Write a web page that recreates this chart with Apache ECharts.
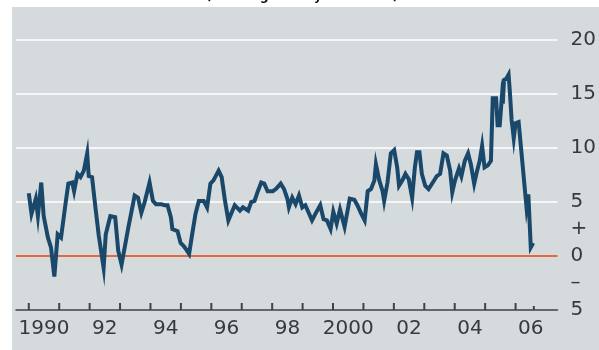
<!DOCTYPE html>
<html>
<head>
<meta charset="utf-8">
<script src="https://cdn.jsdelivr.net/npm/echarts@6/dist/echarts.min.js"></script>
<style>
  html, body { margin: 0; padding: 0; background: #fff; }
  #chart { width: 599px; height: 350px; }
</style>
</head>
<body>
<div id="chart"></div>
<script>
// Monthly-ish observations, in decimal years, with the % change at each
const times = [
  1990.00, 1990.09, 1990.23, 1990.30, 1990.41, 1990.49, 1990.63, 1990.73, 1990.84, 1990.95,
  1991.06, 1991.22, 1991.30, 1991.43, 1991.49, 1991.60, 1991.70, 1991.81, 1991.92, 1991.97,
  1992.08, 1992.19, 1992.30, 1992.46, 1992.53, 1992.68, 1992.84, 1992.94,
  1993.05, 1993.27, 1993.48, 1993.59, 1993.70, 1993.81, 1993.97,
  1994.08, 1994.18, 1994.35, 1994.46, 1994.56, 1994.67, 1994.72, 1994.89, 1994.99,
  1995.10, 1995.20, 1995.27, 1995.37, 1995.48, 1995.59, 1995.75, 1995.86, 1995.97,
  1996.07, 1996.24, 1996.34, 1996.45, 1996.56, 1996.61, 1996.77, 1996.94,
  1997.04, 1997.21, 1997.31, 1997.42, 1997.53, 1997.64, 1997.74, 1997.85,
  1998.02, 1998.12, 1998.28, 1998.39, 1998.50, 1998.55, 1998.66, 1998.77, 1998.88, 1998.99,
  1999.09, 1999.20, 1999.31, 1999.42, 1999.58, 1999.69, 1999.80, 1999.92,
  2000.01, 2000.12, 2000.23, 2000.38, 2000.55, 2000.70, 2000.80, 2000.93,
  2001.04, 2001.14, 2001.25, 2001.36, 2001.41, 2001.52, 2001.63, 2001.68, 2001.79, 2001.90,
  2002.01, 2002.11, 2002.17, 2002.28, 2002.38, 2002.49, 2002.60, 2002.69, 2002.76, 2002.84, 2002.92,
  2003.03, 2003.14, 2003.30, 2003.41, 2003.52, 2003.63, 2003.74, 2003.85, 2003.92,
  2004.01, 2004.14, 2004.22, 2004.33, 2004.44, 2004.53, 2004.64, 2004.72, 2004.82, 2004.90, 2004.98,
  2005.09, 2005.19, 2005.25, 2005.36, 2005.41, 2005.48, 2005.55, 2005.58, 2005.62, 2005.69, 2005.77,
  2005.81, 2005.87, 2005.94,
  2006.00, 2006.10, 2006.21, 2006.32, 2006.36, 2006.42, 2006.50, 2006.58
];
const values = [
  5.8, 3.9, 5.3, 3.7, 6.8, 3.7, 1.7, 0.8, -1.9, 2.0,
  1.7, 5.1, 6.7, 6.8, 6.0, 7.6, 7.3, 7.9, 9.5, 7.4,
  7.3, 4.5, 1.9, -1.1, 2.0, 3.7, 3.6, 0.5,
  -0.8, 2.6, 5.6, 5.4, 4.0, 5.0, 6.8,
  5.1, 4.8, 4.8, 4.7, 4.7, 3.6, 2.5, 2.3, 1.2,
  0.9, 0.5, 0.2, 2.0, 3.9, 5.1, 5.1, 4.5, 6.7,
  7.0, 7.9, 7.3, 5.1, 3.3, 3.3, 4.7, 4.2,
  4.5, 4.2, 5.0, 5.1, 6.0, 6.8, 6.7, 6.0,
  6.0, 6.2, 6.7, 6.2, 5.3, 4.5, 5.4, 4.8, 5.6, 4.5,
  4.7, 4.0, 3.3, 3.9, 4.7, 3.4, 3.3, 2.5,
  4.1, 3.0, 4.3, 2.7, 5.3, 5.2, 4.7, 3.9,
  3.3, 6.0, 6.2, 7.0, 8.5, 7.0, 6.0, 5.1, 6.8, 9.5,
  9.8, 8.2, 6.5, 7.0, 7.6, 7.1, 5.4, 8.2, 9.6, 9.6, 7.6,
  6.5, 6.2, 6.9, 7.4, 7.6, 9.5, 9.3, 7.9, 5.9,
  7.0, 8.1, 7.4, 8.8, 9.5, 8.5, 6.7, 7.7, 8.8, 10.2, 8.2,
  8.4, 8.8, 14.6, 14.6, 12.1, 12.1, 14.7, 14.1, 16.3, 16.4, 16.8,
  15.3, 12.6, 10.9,
  12.3, 12.4, 9.1, 5.7, 4.5, 5.7, 0.8, 1.2
];

// Year ticks, the short tick marking the latest reading, and mid-year labels
const tickYears = [1990, 1991, 1992, 1993, 1994, 1995, 1996, 1997, 1998,
                   1999, 2000, 2001, 2002, 2003, 2004, 2005, 2006];
const latestTick = [2006.6];
const labelYears = [1990, 1992, 1994, 1996, 1998, 2000, 2002, 2004, 2006];
const xLabels = ['1990', '92', '94', '96', '98', '2000', '02', '04', '06'];

// Right-hand scale: values and the text shown for them
const yTickValues = [-5, -2.5, 0, 2.5, 5, 10, 15, 20];
const yLabels = ['5', '\u2013', '0', '+', '5', '10', '15', '20'];

const xMin = 1989.58, xMax = 2007.38, yMin = -5, yMax = 20;
const labelFont = { fontFamily: 'DejaVu Sans', fontSize: 20, color: '#363a3d' };
const axisGrey = '#3f4346';

// Tick marks: short upright strokes standing on the baseline
function tickSeries(years, height) {
  return {
    type: 'custom',
    data: years.map(y => [y, yMin]),
    renderItem: (params, api) => {
      const p = api.coord([api.value(0), api.value(1)]);
      return {
        type: 'line',
        shape: { x1: p[0], y1: p[1], x2: p[0], y2: p[1] - height },
        style: { stroke: axisGrey, lineWidth: 2 }
      };
    },
    silent: true,
    clip: false,
    z: 6
  };
}

const chart = echarts.init(document.getElementById('chart'), null, { renderer: 'canvas' });
chart.setOption({
  backgroundColor: '#ffffff',
  animation: false,
  graphic: [
    { type: 'rect', z: -10, shape: { x: 12, y: 7, width: 587, height: 343 },
      style: { fill: '#d5dadc' } },
    { type: 'text', z: 10, x: 302, y: 3,
      style: { text: '(% change on a year earlier)', fill: '#111',
               font: 'bold 12px "DejaVu Sans"', textAlign: 'center', textVerticalAlign: 'bottom' } }
  ],
  grid: { left: 16, right: 33, top: 40, bottom: 40 },
  xAxis: {
    type: 'value', min: xMin, max: xMax,
    axisLine: { show: true, onZero: false, lineStyle: { color: axisGrey, width: 1.5 } },
    axisTick: { show: false },
    axisLabel: {
      customValues: labelYears.map(y => y + 0.5),
      formatter: v => xLabels[labelYears.indexOf(Math.floor(v))],
      margin: 9, ...labelFont
    },
    splitLine: { show: false }
  },
  yAxis: {
    type: 'value', position: 'right', min: yMin, max: yMax, interval: 5,
    axisLine: { show: false },
    axisTick: { show: false },
    axisLabel: {
      customValues: yTickValues,
      formatter: v => yLabels[yTickValues.indexOf(v)],
      margin: 13, align: 'left', ...labelFont
    },
    splitLine: {
      show: true,
      lineStyle: { color: ['transparent', '#e5673f', '#f4f6f7', '#f4f6f7', '#f4f6f7', '#f4f6f7'], width: 2 }
    }
  },
  series: [
    {
      type: 'line',
      data: times.map((t, i) => [t, values[i]]),
      showSymbol: false,
      symbol: 'none',
      lineStyle: { color: '#19486a', width: 4, join: 'miter' },
      z: 5
    },
    tickSeries(tickYears, 7),
    tickSeries(latestTick, 4)
  ]
});
</script>
</body>
</html>
